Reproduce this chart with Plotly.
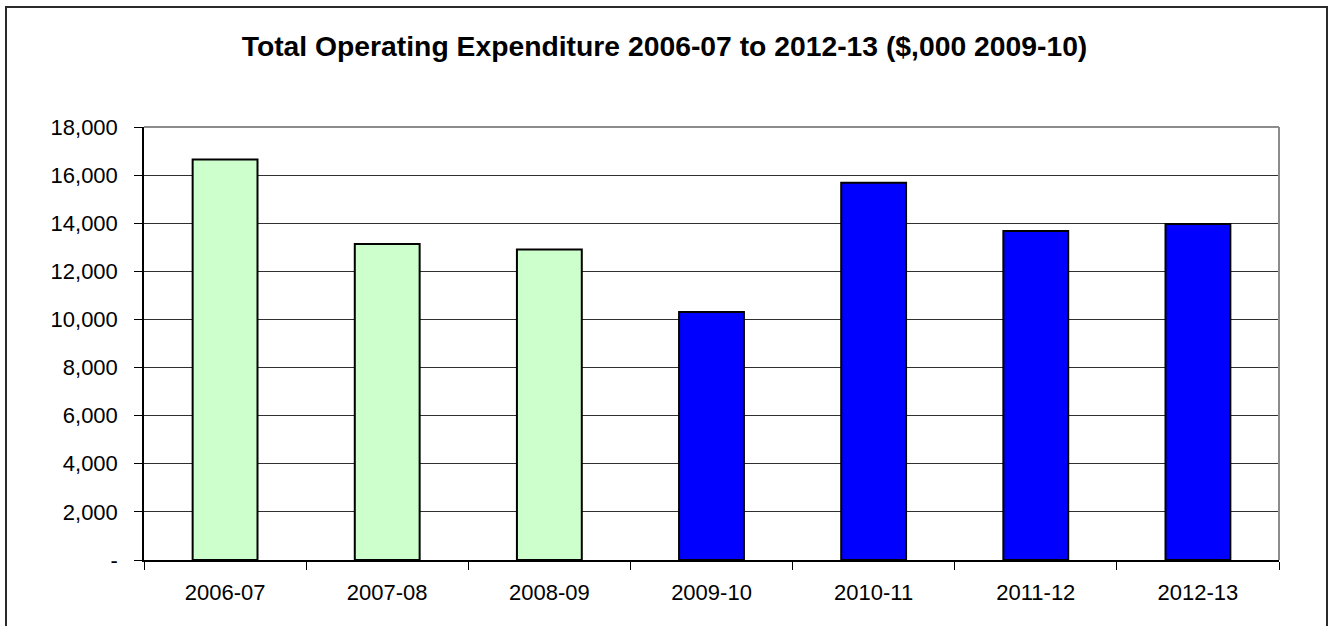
import plotly.graph_objects as go

# Financial years and total operating expenditure ($,000 in 2009-10 dollars)
years = ["2006-07", "2007-08", "2008-09", "2009-10", "2010-11", "2011-12", "2012-13"]
expenditure = [16650, 13140, 12910, 10310, 15680, 13680, 13970]
# Actual years shaded light green, forecast years blue
bar_colors = ["#CCFFCC", "#CCFFCC", "#CCFFCC", "#0000FF", "#0000FF", "#0000FF", "#0000FF"]

y_tick_vals = [0, 2000, 4000, 6000, 8000, 10000, 12000, 14000, 16000, 18000]
y_tick_text = ["-", "2,000", "4,000", "6,000", "8,000", "10,000", "12,000", "14,000", "16,000", "18,000"]

W, H = 1329, 626
ML, MR, MT, MB = 144, 50, 127, 66
PW, PH = W - ML - MR, H - MT - MB

def px_to_paper_x(px):
    return (px - ML) / PW

def px_to_paper_y(py):
    return 1 - (py - MT) / PH

fig = go.Figure(
    go.Bar(
        x=years,
        y=expenditure,
        marker=dict(color=bar_colors, line=dict(color="#000000", width=2)),
        width=0.4,
    )
)

fig.update_layout(
    width=W,
    height=H,
    margin=dict(l=ML, r=MR, t=MT, b=MB),
    paper_bgcolor="white",
    plot_bgcolor="white",
    showlegend=False,
    font=dict(family="Liberation Sans, Arial, sans-serif", color="#000000", size=22),
    title=dict(
        text="<b>Total Operating Expenditure 2006-07 to 2012-13 ($,000 2009-10)</b>",
        x=0.5,
        xanchor="center",
        y=1 - 46 / H,
        yanchor="middle",
        font=dict(size=28.3, family="Liberation Sans, Arial, sans-serif", color="#000000"),
    ),
    xaxis=dict(
        type="category",
        showgrid=False,
        showline=True,
        linecolor="#000000",
        linewidth=1.5,
        ticks="outside",
        tickson="boundaries",
        ticklen=8,
        tickcolor="#000000",
        tickfont=dict(size=22),
        ticklabelstandoff=12,
    ),
    yaxis=dict(
        range=[0, 18000],
        tickvals=y_tick_vals,
        ticktext=y_tick_text,
        showgrid=True,
        gridcolor="#303030",
        gridwidth=1,
        showline=True,
        linecolor="#000000",
        linewidth=1.5,
        ticks="outside",
        ticklen=8,
        tickcolor="#000000",
        tickfont=dict(size=22),
        ticklabelstandoff=12,
        zeroline=False,
    ),
    shapes=[
        # gray plot-area frame: top and right edges
        dict(
            type="line", xref="x domain", yref="y domain",
            x0=0, x1=1, y0=1, y1=1,
            line=dict(color="#8C8C8C", width=2), layer="above",
        ),
        dict(
            type="line", xref="x domain", yref="y domain",
            x0=1, x1=1, y0=0, y1=1,
            line=dict(color="#8C8C8C", width=2), layer="above",
        ),
        # outer chart border
        dict(
            type="rect", xref="paper", yref="paper",
            x0=px_to_paper_x(6), x1=px_to_paper_x(1327),
            y0=px_to_paper_y(640), y1=px_to_paper_y(7),
            line=dict(color="#2A2A2A", width=2), layer="above",
        ),
    ],
)

fig.write_html("out.html")
